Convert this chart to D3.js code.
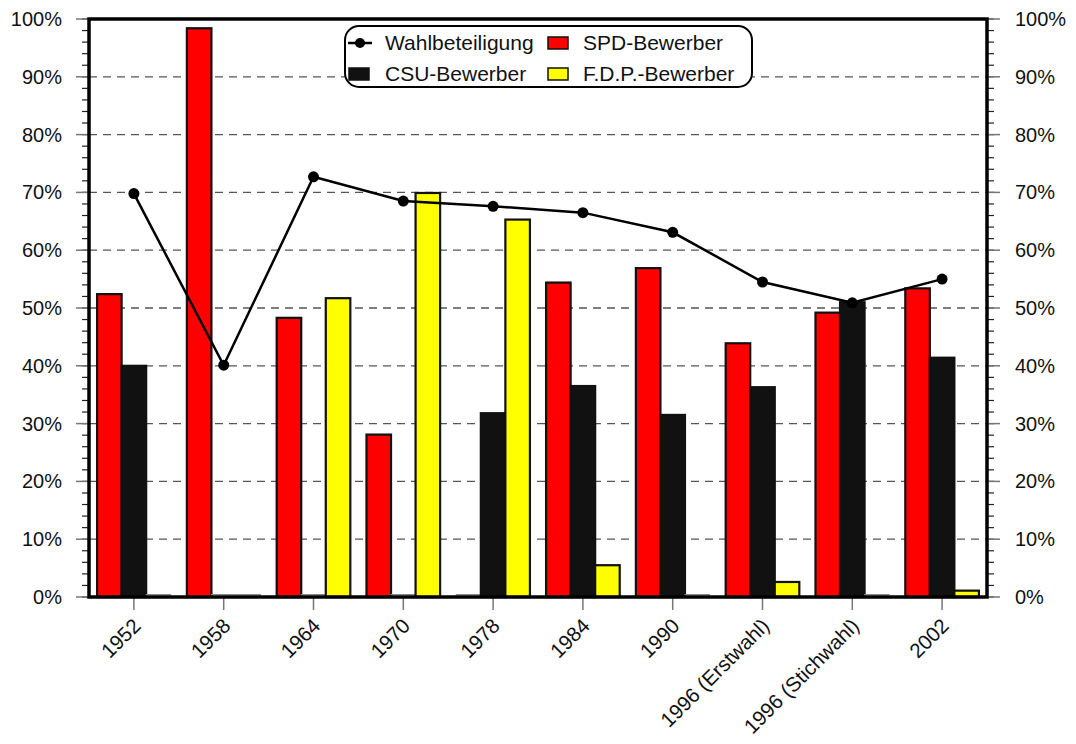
<!DOCTYPE html>
<html><head><meta charset="utf-8">
<script src="https://cdn.jsdelivr.net/npm/d3@7"></script>
<style>body{margin:0;background:#fff}svg{display:block;font-family:"Liberation Sans",Arial,sans-serif}</style>
</head><body><svg id="c" width="1076" height="744"></svg>
<script>
const categories = ["1952","1958","1964","1970","1978","1984","1990","1996 (Erstwahl)","1996 (Stichwahl)","2002"];
const wahlbeteiligung = [69.8,40.1,72.7,68.5,67.6,66.5,63.1,54.5,50.9,55.0];
const spd = [52.4,98.4,48.3,28.1,0,54.4,56.9,43.9,49.2,53.4];
const csu = [40.0,0,0,0,31.8,36.5,31.5,36.3,51.0,41.4];
const fdp = [0,0,51.7,69.9,65.3,5.5,0,2.6,0,1.1];
const yTicks = [0,10,20,30,40,50,60,70,80,90,100];
const seriesNames = ["SPD-Bewerber","CSU-Bewerber","F.D.P.-Bewerber"];
const seriesColors = ["#ff0000","#111111","#ffff00"];

const svg = d3.select("#c");
const L=89,R=987,T=19,B=597;
const x = d3.scaleBand().domain(categories).range([L,R]).paddingInner(0.18).paddingOuter(0.09);
const xc = d3.scalePoint().domain(categories).range([L,R]).padding(0.5);
const xs = d3.scaleBand().domain(seriesNames).range([0,x.bandwidth()]);
const y = d3.scaleLinear().domain([0,100]).range([B,T]);

// gridlines
svg.append("g").selectAll("line").data(yTicks.filter(d=>d>0&&d<100)).join("line")
  .attr("x1",L).attr("x2",R).attr("y1",d=>y(d)).attr("y2",d=>y(d))
  .attr("stroke","#555").attr("stroke-width",1.3).attr("stroke-dasharray","8,6");

// bars
const seriesData=[spd,csu,fdp];
const bars = svg.append("g");
seriesData.forEach((arr,si)=>{
  bars.selectAll(null).data(arr).join("rect")
    .attr("x",(d,i)=>x(categories[i])+xs(seriesNames[si]))
    .attr("width",xs.bandwidth())
    .attr("y",d=>d===0?y(0)-2.5:y(d)).attr("height",d=>d===0?0.5:B-y(d))
    .attr("fill",seriesColors[si]).attr("stroke",d=>d===0?"#888":"#111").attr("stroke-width",d=>d===0?1:2.2);
});

// line
const line = d3.line().x((d,i)=>xc(categories[i])).y(d=>y(d));
svg.append("path").datum(wahlbeteiligung).attr("d",line).attr("fill","none").attr("stroke","#000").attr("stroke-width",2.5);
svg.append("g").selectAll("circle").data(wahlbeteiligung).join("circle")
  .attr("cx",(d,i)=>xc(categories[i])).attr("cy",d=>y(d)).attr("r",5.5).attr("fill","#000");

// axes
const minor = d3.range(0,101,2);
const ax = svg.append("g");
ax.selectAll(".ml").data(minor).join("line").attr("x1",L-7).attr("x2",L).attr("y1",d=>y(d)).attr("y2",d=>y(d)).attr("stroke","#222").attr("stroke-width",1.2);
ax.selectAll(".mr").data(minor).join("line").attr("x1",R).attr("x2",R+7).attr("y1",d=>y(d)).attr("y2",d=>y(d)).attr("stroke","#222").attr("stroke-width",1.2);
ax.selectAll(".Ml").data(yTicks).join("line").attr("x1",L-13).attr("x2",L).attr("y1",d=>y(d)).attr("y2",d=>y(d)).attr("stroke","#777").attr("stroke-width",1.5);
ax.selectAll(".Mr").data(yTicks).join("line").attr("x1",R).attr("x2",R+13).attr("y1",d=>y(d)).attr("y2",d=>y(d)).attr("stroke","#777").attr("stroke-width",1.5);
ax.selectAll(".tl").data(yTicks).join("text").attr("x",62).attr("y",d=>y(d)).attr("dy","0.35em").attr("text-anchor","end").attr("font-size",20).attr("fill","#111").text(d=>d+"%");
ax.selectAll(".tr").data(yTicks).join("text").attr("x",1015).attr("y",d=>y(d)).attr("dy","0.35em").attr("text-anchor","start").attr("font-size",20).attr("fill","#111").text(d=>d+"%");
ax.selectAll(".bt").data(categories).join("line").attr("x1",d=>xc(d)).attr("x2",d=>xc(d)).attr("y1",B).attr("y2",B+13).attr("stroke","#777").attr("stroke-width",1.5);
ax.selectAll(".bl").data(categories).join("text")
  .attr("transform",d=>`translate(${xc(d)+3},${B+25}) rotate(-45)`)
  .attr("text-anchor","end").attr("dy","0.35em").attr("font-size",20.5).attr("fill","#111").text(d=>d);
svg.append("rect").attr("x",L).attr("y",T).attr("width",R-L).attr("height",B-T).attr("fill","none").attr("stroke","#000").attr("stroke-width",3.5);

// legend
const lg = svg.append("g");
lg.append("rect").attr("x",345).attr("y",26).attr("width",407).attr("height",61).attr("rx",14).attr("fill","#fff").attr("stroke","#000").attr("stroke-width",2);
lg.append("line").attr("x1",348).attr("x2",372).attr("y1",43).attr("y2",43).attr("stroke","#000").attr("stroke-width",2.5);
lg.append("circle").attr("cx",360).attr("cy",43).attr("r",5).attr("fill","#000");
const items=[{t:"Wahlbeteiligung",x:385,y:43},{t:seriesNames[0],x:583,y:43,c:seriesColors[0],sx:548},{t:seriesNames[1],x:385,y:74,c:seriesColors[1],sx:349},{t:seriesNames[2],x:583,y:74,c:seriesColors[2],sx:548}];
items.forEach(it=>{
  if(it.c) lg.append("rect").attr("x",it.sx).attr("y",it.y-6).attr("width",20).attr("height",12).attr("fill",it.c).attr("stroke","#111").attr("stroke-width",1.5);
  lg.append("text").attr("x",it.x).attr("y",it.y).attr("dy","0.35em").attr("font-size",21).attr("fill","#111").text(it.t);
});
</script></body></html>
